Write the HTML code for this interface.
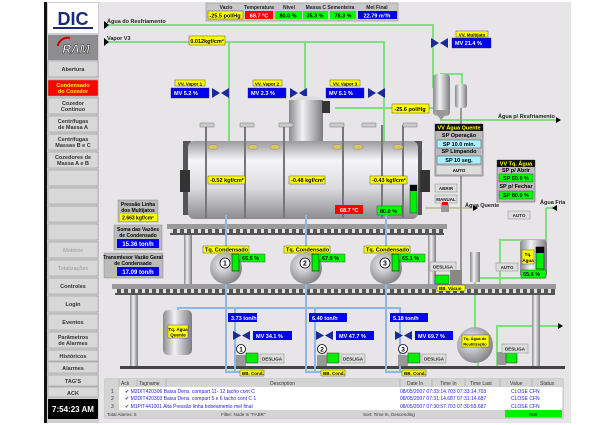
<!DOCTYPE html>
<html><head><meta charset="utf-8"><style>
html,body{margin:0;padding:0;background:#fff;}
svg{display:block;font-family:"Liberation Sans",sans-serif;}
</style></head><body>
<svg width="614" height="425" viewBox="0 0 614 425" xmlns="http://www.w3.org/2000/svg">
<defs>
<linearGradient id="vg" x1="0" y1="0" x2="0" y2="1"><stop offset="0" stop-color="#9a9a9e"/><stop offset="0.25" stop-color="#f6f6f8"/><stop offset="0.6" stop-color="#dcdce0"/><stop offset="1" stop-color="#8c8c90"/></linearGradient>
<linearGradient id="hg" x1="0" y1="0" x2="1" y2="0"><stop offset="0" stop-color="#8a8a8e"/><stop offset="0.4" stop-color="#f2f2f4"/><stop offset="1" stop-color="#7c7c80"/></linearGradient>
<radialGradient id="rg" cx="0.4" cy="0.4" r="0.7"><stop offset="0" stop-color="#f4f4f6"/><stop offset="1" stop-color="#77777b"/></radialGradient>
<pattern id="teeth" x="0" y="0" width="7" height="6" patternUnits="userSpaceOnUse"><rect width="7" height="6" fill="#555"/><rect x="2" y="1" width="3" height="4" fill="#e0e0e0"/></pattern>
</defs>
<rect x="44" y="2" width="527" height="421" fill="#e7e5e8"/>
<rect x="44" y="2" width="3" height="421" fill="#111"/>
<rect x="47" y="2" width="52" height="421" fill="#cfcfcf"/>
<rect x="48" y="3" width="50" height="30" fill="#fff"/>
<text x="73" y="25" font-size="18" font-weight="bold" fill="#1e2a78" text-anchor="middle">DIC</text>
<rect x="53" y="27" width="40" height="2" fill="#1e2a78"/>
<rect x="48" y="35" width="50" height="25" fill="#8e8e90"/>
<text x="76" y="53" font-size="12" font-style="italic" font-weight="bold" fill="#fff" stroke="#222" stroke-width="0.5" text-anchor="middle">RAM</text>
<path d="M58 46 A10 9 0 0 1 70 38" stroke="#c00" stroke-width="2" fill="none"/>
<g font-size="5.5" font-weight="bold" fill="#333" text-anchor="middle">
<rect x="48" y="61" width="50" height="16" fill="#d8d8d8" stroke="#999" stroke-width=".6"/><text x="73" y="71">Abertura</text>
<rect x="48" y="80" width="50" height="16" fill="#f00" stroke="#999" stroke-width=".6"/><text x="73" y="87" fill="#ff0">Condensado</text><text x="73" y="93" fill="#ff0">do Cozedor</text>
<rect x="48" y="98" width="50" height="16" fill="#d8d8d8" stroke="#999" stroke-width=".6"/><text x="73" y="105">Cozedor</text><text x="73" y="111">Contínuo</text>
<rect x="48" y="116" width="50" height="16" fill="#d8d8d8" stroke="#999" stroke-width=".6"/><text x="73" y="123">Centrífugas</text><text x="73" y="129">de Massa A</text>
<rect x="48" y="134" width="50" height="16" fill="#d8d8d8" stroke="#999" stroke-width=".6"/><text x="73" y="141">Centrífugas</text><text x="73" y="147">Massas B e C</text>
<rect x="48" y="152" width="50" height="16" fill="#d8d8d8" stroke="#999" stroke-width=".6"/><text x="73" y="159">Cozedores de</text><text x="73" y="165">Massa A e B</text>
<rect x="48" y="170" width="50" height="16" fill="#d8d8d8" stroke="#999" stroke-width=".6"/>
<rect x="48" y="188" width="50" height="16" fill="#d8d8d8" stroke="#999" stroke-width=".6"/>
<rect x="48" y="206" width="50" height="16" fill="#d8d8d8" stroke="#999" stroke-width=".6"/>
<rect x="48" y="224" width="50" height="16" fill="#d8d8d8" stroke="#999" stroke-width=".6"/>
<rect x="48" y="242" width="50" height="16" fill="#d8d8d8" stroke="#999" stroke-width=".6"/><text x="73" y="252" fill="#999" font-weight="normal">Motores</text>
<rect x="48" y="260" width="50" height="16" fill="#d8d8d8" stroke="#999" stroke-width=".6"/><text x="73" y="270" fill="#999" font-weight="normal">Totalizações</text>
<rect x="48" y="278" width="50" height="16" fill="#d8d8d8" stroke="#999" stroke-width=".6"/><text x="73" y="288">Controles</text>
<rect x="48" y="296" width="50" height="16" fill="#d8d8d8" stroke="#999" stroke-width=".6"/><text x="73" y="306">Login</text>
<rect x="48" y="314" width="50" height="16" fill="#d8d8d8" stroke="#999" stroke-width=".6"/><text x="73" y="324">Eventos</text>
<rect x="48" y="332" width="50" height="16" fill="#d8d8d8" stroke="#999" stroke-width=".6"/><text x="73" y="339">Parâmetros</text><text x="73" y="345">de Alarmes</text>
<rect x="48" y="350" width="50" height="11" fill="#d8d8d8" stroke="#999" stroke-width=".6"/><text x="73" y="358">Históricos</text>
<rect x="48" y="362" width="50" height="11" fill="#d8d8d8" stroke="#999" stroke-width=".6"/><text x="73" y="370">Alarmes</text>
<rect x="48" y="375" width="50" height="11" fill="#d8d8d8" stroke="#999" stroke-width=".6"/><text x="73" y="383">TAG'S</text>
<rect x="48" y="387" width="50" height="10" fill="#d8d8d8" stroke="#999" stroke-width=".6"/><text x="73" y="395">ACK</text>
</g>
<rect x="48" y="399" width="50" height="20" fill="#000"/>
<text x="73" y="412" font-size="8" font-weight="bold" fill="#fff" text-anchor="middle">7:54:23 AM</text>

<rect x="206" y="3" width="192" height="18" fill="#c8c8c8" stroke="#888" stroke-width=".5"/>
<g font-size="5" font-weight="bold" fill="#222" text-anchor="middle">
<text x="226" y="9">Vazio</text><text x="259" y="9">Temperatura</text><text x="289" y="9">Nível</text><text x="330" y="9">Massa C Sementeira</text><text x="377" y="9">Mel Final</text></g>
<rect x="208" y="11" width="35" height="8" fill="#ff0" stroke="#333" stroke-width=".4"/>
<rect x="245" y="11" width="28" height="8" fill="#f00"/>
<rect x="275" y="11" width="27" height="8" fill="#0f0"/>
<rect x="303" y="11" width="25" height="8" fill="#0f0"/>
<rect x="330" y="11" width="26" height="8" fill="#0f0"/>
<rect x="358" y="11" width="39" height="8" fill="#0000e0"/>
<g font-size="5.5" font-weight="bold" text-anchor="middle">
<text x="225" y="17.5">-25.5 pol/Hg</text><text x="259" y="17.5" fill="#fff">68.7 °C</text><text x="288" y="17.5">80.0 %</text><text x="315" y="17.5">35.3 %</text><text x="343" y="17.5">78.3 %</text><text x="377" y="17.5" fill="#fff">22.79 m³/h</text></g>

<g stroke="#7fe07f" stroke-width="2" fill="none">
<path d="M106 25 H433 V88"/>
<path d="M106 42 H384 V145"/>
<path d="M229 42 V145"/><path d="M305 42 V157"/>
<path d="M335 108 H436"/>
<path d="M440 120 H558"/>
<path d="M441 78 V74 H462 V84"/>
<path d="M475 208 H425" stroke="#c0c8a0"/>
<path d="M546 208 H555 M546 208 V240 H500 V285 M478 278 H545"/>
<path d="M475 277 V345"/>
<path d="M478 345 V368 H497 V326 H560"/>
</g>
<g font-size="5.5" font-weight="bold" fill="#222">
<text x="107" y="23">Água do Resfriamento</text><text x="107" y="40">Vapor V3</text>
<text x="498" y="118">Água p/ Resfriamento</text><text x="465" y="207">Água Quente</text><text x="540" y="204">Água Fria</text></g>
<g fill="#000"><path d="M104 21 l5 4 l-5 4z"/><path d="M104 38 l5 4 l-5 4z"/><path d="M561 120 l-5 -3 v6z"/><path d="M478 208 l-5 -3 v6z"/><path d="M552 208 l5 -3 v6z"/><path d="M563 326 l-5 -3 v6z"/></g>
<rect x="189" y="36" width="36" height="9" fill="#ff0" stroke="#333" stroke-width=".4"/><text x="207" y="43" font-size="5.5" font-weight="bold" text-anchor="middle">0.012kgf/cm²</text>

<rect x="433" y="74" width="17" height="42" rx="4" fill="url(#hg)"/><path d="M433 110 L441 120 L450 110z" fill="#999"/>
<rect x="455" y="84" width="12" height="24" rx="3" fill="url(#hg)"/>
<path d="M461 108 V290" stroke="#999" stroke-width="2"/>
<rect x="392" y="104" width="37" height="9" fill="#ff0" stroke="#333" stroke-width=".4"/><text x="410" y="111" font-size="5.5" font-weight="bold" text-anchor="middle">-25.6 pol/Hg</text>

<g font-size="5.5" font-weight="bold">
<rect x="175" y="80" width="30" height="6" fill="#ff0" stroke="#333" stroke-width=".4"/><text x="190" y="85.5" text-anchor="middle" font-size="4.5">VV. Vapor 1</text>
<rect x="171" y="88" width="38" height="10" fill="#00e" stroke="#333" stroke-width=".4"/><text x="174" y="95" fill="#fff">MV   5.2   %</text>
<rect x="253" y="80" width="29" height="6" fill="#ff0" stroke="#333" stroke-width=".4"/><text x="267" y="85.5" text-anchor="middle" font-size="4.5">VV. Vapor 2</text>
<rect x="248" y="88" width="38" height="10" fill="#00e" stroke="#333" stroke-width=".4"/><text x="251" y="95" fill="#fff">MV   2.3   %</text>
<rect x="330" y="80" width="30" height="6" fill="#ff0" stroke="#333" stroke-width=".4"/><text x="345" y="85.5" text-anchor="middle" font-size="4.5">VV. Vapor 3</text>
<rect x="326" y="88" width="38" height="10" fill="#00e" stroke="#333" stroke-width=".4"/><text x="329" y="95" fill="#fff">MV   5.1   %</text>
<rect x="456" y="31" width="32" height="6" fill="#ff0" stroke="#333" stroke-width=".4"/><text x="472" y="36.5" text-anchor="middle" font-size="4.5">VV. Multijato</text>
<rect x="452" y="38" width="39" height="10" fill="#00e" stroke="#333" stroke-width=".4"/><text x="455" y="45" fill="#fff">MV   21.4  %</text>
</g>
<g fill="#1a2a9a"><path d="M212 88 l8 5 l-8 5z M229 88 l-8 5 l8 5z"/><path d="M290 88 l8 5 l-8 5z M307 88 l-8 5 l8 5z"/><path d="M368 88 l8 5 l-8 5z M385 88 l-8 5 l8 5z"/><path d="M431 38 l8 5 l-8 5z M448 38 l-8 5 l8 5z"/></g>

<ellipse cx="306" cy="101" rx="17" ry="5" fill="#ddd"/>
<rect x="289" y="100" width="34" height="50" fill="url(#hg)"/>
<rect x="322" y="101" width="8" height="12" fill="#333"/>
<rect x="183" y="141" width="8" height="74" fill="#555"/>
<rect x="414" y="141" width="8" height="74" fill="#555"/>
<rect x="188" y="141" width="230" height="78" rx="6" fill="url(#vg)"/>
<rect x="180" y="170" width="10" height="22" fill="#333"/><rect x="420" y="170" width="10" height="22" fill="#333"/>
<g stroke="#777" stroke-width="2"><path d="M206 125 V218 M245 125 V218 M284 125 V218 M343 125 V218 M382 125 V218 M403 125 V218"/></g>
<g fill="#ccc" stroke="#777" stroke-width=".5"><rect x="200" y="123" width="14" height="4"/><rect x="240" y="123" width="14" height="4"/><rect x="279" y="123" width="14" height="4"/><rect x="330" y="123" width="14" height="4"/><rect x="362" y="123" width="14" height="4"/><rect x="403" y="123" width="14" height="4"/></g>
<g fill="#d9c860" stroke="#888" stroke-width=".5"><ellipse cx="213" cy="147" rx="5" ry="2.5"/><ellipse cx="253" cy="147" rx="5" ry="2.5"/><ellipse cx="275" cy="147" rx="5" ry="2.5"/><ellipse cx="337" cy="147" rx="5" ry="2.5"/><ellipse cx="358" cy="147" rx="5" ry="2.5"/><ellipse cx="398" cy="147" rx="5" ry="2.5"/></g>
<g font-size="5.5" font-weight="bold">
<rect x="208" y="176" width="37" height="8" fill="#ff0" stroke="#333" stroke-width=".4"/><text x="210" y="182">-0.52 kgf/cm²</text>
<rect x="289" y="176" width="36" height="8" fill="#ff0" stroke="#333" stroke-width=".4"/><text x="291" y="182">-0.48 kgf/cm²</text>
<rect x="370" y="176" width="37" height="8" fill="#ff0" stroke="#333" stroke-width=".4"/><text x="372" y="182">-0.43 kgf/cm²</text>
<rect x="335" y="205" width="28" height="9" fill="#f00"/><text x="340" y="212" fill="#fff">68.7  °C</text>
<rect x="377" y="206" width="25" height="9" fill="#0f0" stroke="#333" stroke-width=".4"/><text x="380" y="213">80.0  %</text>
</g>
<rect x="410" y="185" width="7" height="28" fill="#0e0" stroke="#333" stroke-width=".5"/><rect x="410" y="185" width="7" height="6" fill="#000"/>
<rect x="167" y="224" width="280" height="5" fill="#9a9a9a"/>
<rect x="170" y="229" width="274" height="6" fill="url(#teeth)"/>
<rect x="184" y="235" width="8" height="50" fill="url(#hg)"/><rect x="428" y="235" width="8" height="50" fill="url(#hg)"/>
<rect x="112" y="284" width="444" height="5" fill="#9a9a9a"/>
<rect x="115" y="289" width="440" height="6" fill="url(#teeth)"/>
<rect x="130" y="295" width="8" height="72" fill="url(#hg)"/><rect x="532" y="295" width="8" height="72" fill="url(#hg)"/>
<rect x="120" y="366" width="445" height="3" fill="#444"/>

<g stroke="#8ab8ea" stroke-width="2" fill="none">
<path d="M226 215 V247 M306 215 V247 M386 215 V247"/>
<path d="M226 283 V372 H244 M306 283 V372 H324 M386 283 V372 H404"/>
<path d="M178 330 V308 H400 V372"/><path d="M235 308 V372 M315 308 V372"/>
</g>
<g font-size="5.5" font-weight="bold">
<rect x="203" y="246" width="46" height="7" fill="#ff0" stroke="#333" stroke-width=".4"/><text x="205" y="251.5">Tq. Condensado</text>
<rect x="284" y="246" width="46" height="7" fill="#ff0" stroke="#333" stroke-width=".4"/><text x="286" y="251.5">Tq. Condensado</text>
<rect x="364" y="246" width="46" height="7" fill="#ff0" stroke="#333" stroke-width=".4"/><text x="366" y="251.5">Tq. Condensado</text>
</g>
<g>
<circle cx="226" cy="268" r="16" fill="url(#rg)"/><circle cx="306" cy="268" r="16" fill="url(#rg)"/><circle cx="386" cy="268" r="16" fill="url(#rg)"/>
<g fill="#fff" stroke="#000" stroke-width=".8"><circle cx="225" cy="263" r="5"/><circle cx="305" cy="263" r="5"/><circle cx="385" cy="263" r="5"/></g>
<g font-size="7" font-weight="bold" text-anchor="middle"><text x="225" y="265.5">1</text><text x="305" y="265.5">2</text><text x="385" y="265.5">3</text></g>
<g fill="#0e0" stroke="#000" stroke-width=".5"><rect x="232" y="254" width="7" height="17"/><rect x="312" y="254" width="7" height="17"/><rect x="392" y="254" width="7" height="17"/></g>
<g font-size="5.5" font-weight="bold"><rect x="240" y="254" width="25" height="8" fill="#0f0" stroke="#333" stroke-width=".4"/><text x="242" y="260">66.5  %</text>
<rect x="320" y="254" width="25" height="8" fill="#0f0" stroke="#333" stroke-width=".4"/><text x="322" y="260">67.9  %</text>
<rect x="400" y="254" width="25" height="8" fill="#0f0" stroke="#333" stroke-width=".4"/><text x="402" y="260">65.1  %</text></g>
</g>

<g font-size="5" font-weight="bold" text-anchor="middle">
<rect x="118" y="200" width="40" height="22" fill="#bbb" stroke="#888" stroke-width=".5"/><text x="138" y="206">Pressão Linha</text><text x="138" y="212">dos Multijatos</text>
<rect x="120" y="214" width="37" height="7" fill="#ff0"/><text x="138" y="219.5">2.663 kgf/cm²</text>
<rect x="114" y="225" width="48" height="25" fill="#bbb" stroke="#888" stroke-width=".5"/><text x="138" y="231">Soma das Vazões</text><text x="138" y="237">de Condensado</text>
<rect x="117" y="239" width="42" height="9" fill="#00e"/><text x="138" y="246" fill="#fff" font-size="6">15.36  ton/h</text>
<rect x="104" y="253" width="59" height="25" fill="#bbb" stroke="#888" stroke-width=".5"/><text x="133" y="259">Transmissor Vazão Geral</text><text x="133" y="265">de Condensado</text>
<rect x="117" y="267" width="42" height="9" fill="#00e"/><text x="138" y="274" fill="#fff" font-size="6">17.09  ton/h</text>
</g>

<g font-size="5.5" font-weight="bold" text-anchor="middle">
<rect x="435" y="124" width="48" height="52" fill="#bbb" stroke="#555" stroke-width=".5"/>
<rect x="435" y="124" width="48" height="7" fill="#111"/><text x="459" y="129.5" fill="#ff0">VV Água Quente</text>
<text x="459" y="137">SP Operação</text>
<rect x="437" y="140" width="44" height="8" fill="#aef" stroke="#333" stroke-width=".4"/><text x="459" y="146">SP   10.0   min.</text>
<text x="459" y="153">SP Limpando</text>
<rect x="437" y="156" width="44" height="8" fill="#aef" stroke="#333" stroke-width=".4"/><text x="459" y="162">SP   10   seg.</text>
<rect x="437" y="166" width="44" height="8" fill="#ddd"/><text x="459" y="172" font-size="4.5">AUTO</text>
<rect x="497" y="160" width="38" height="42" fill="#bbb" stroke="#555" stroke-width=".5"/>
<rect x="497" y="160" width="38" height="7" fill="#111"/><text x="516" y="165.5" fill="#ff0">VV Tq. Água</text>
<text x="516" y="172">SP p/ Abrir</text>
<rect x="499" y="174" width="34" height="8" fill="#0f0" stroke="#333" stroke-width=".4"/><text x="516" y="180">SP  50.0  %</text>
<text x="516" y="188">SP p/ Fechar</text>
<rect x="499" y="191" width="34" height="8" fill="#0f0" stroke="#333" stroke-width=".4"/><text x="516" y="197">SP  80.0  %</text>
</g>
<g font-size="4.5" font-weight="bold" text-anchor="middle" fill="#222">
<rect x="435" y="184" width="22" height="8" fill="#ddd" stroke="#888" stroke-width=".5"/><text x="446" y="190">ABRIR</text>
<rect x="435" y="195" width="22" height="8" fill="#ddd" stroke="#888" stroke-width=".5"/><text x="446" y="201">MANUAL</text>
<rect x="508" y="211" width="22" height="8" fill="#ddd" stroke="#888" stroke-width=".5"/><text x="519" y="217">AUTO</text>
<rect x="496" y="263" width="22" height="8" fill="#ddd" stroke="#888" stroke-width=".5"/><text x="507" y="269">AUTO</text>
<rect x="430" y="262" width="26" height="9" fill="#ddd" stroke="#888" stroke-width=".5"/><text x="443" y="268.5">DESLIGA</text>
</g>
<rect x="441" y="204" width="8" height="8" fill="#999"/><rect x="442" y="202" width="6" height="3" fill="#e00"/>
<rect x="520" y="240" width="27" height="37" rx="3" fill="url(#hg)"/>
<rect x="522" y="250" width="12" height="14" fill="#ff0" stroke="#333" stroke-width=".4"/><text x="528" y="256" font-size="4.5" font-weight="bold" text-anchor="middle">Tq.</text><text x="528" y="262" font-size="4.5" font-weight="bold" text-anchor="middle">Água</text>
<rect x="536" y="247" width="8" height="22" fill="#0e0" stroke="#000" stroke-width=".5"/><rect x="536" y="247" width="8" height="6" fill="#000"/>
<rect x="521" y="270" width="25" height="8" fill="#0f0" stroke="#333" stroke-width=".4"/><text x="523" y="276" font-size="5.5" font-weight="bold">65.6  %</text>
<rect x="435" y="275" width="14" height="9" fill="#0e0" stroke="#333" stroke-width=".5"/><rect x="450" y="270" width="12" height="15" fill="#888"/>
<rect x="470" y="252" width="10" height="30" fill="url(#hg)"/>
<rect x="437" y="285" width="28" height="6" fill="#ff0" stroke="#333" stroke-width=".4"/><text x="439" y="290" font-size="4.5" font-weight="bold">BB. Vácuo</text>

<rect x="163" y="310" width="29" height="45" rx="5" fill="url(#hg)"/>
<rect x="168" y="325" width="20" height="13" fill="#ff0" stroke="#333" stroke-width=".4"/><text x="178" y="331" font-size="4.5" font-weight="bold" text-anchor="middle">Tq. Água</text><text x="178" y="336.5" font-size="4.5" font-weight="bold" text-anchor="middle">Quente</text>
<circle cx="475" cy="345" r="18" fill="url(#rg)"/>
<rect x="462" y="335" width="27" height="12" fill="#ff0" stroke="#333" stroke-width=".4"/><text x="475" y="340" font-size="4" font-weight="bold" text-anchor="middle">Tq. Água de</text><text x="475" y="345.5" font-size="4" font-weight="bold" text-anchor="middle">Reutilização</text>
<g font-size="5.5" font-weight="bold" fill="#fff">
<rect x="228" y="313" width="29" height="9" fill="#00e"/><text x="231" y="320">3.73   ton/h</text>
<rect x="309" y="313" width="38" height="9" fill="#00e"/><text x="312" y="320">6.40   ton/h</text>
<rect x="390" y="313" width="38" height="9" fill="#00e"/><text x="393" y="320">5.18   ton/h</text>
<rect x="253" y="331" width="39" height="9" fill="#00e"/><text x="256" y="338">MV   34.1   %</text>
<rect x="336" y="331" width="38" height="9" fill="#00e"/><text x="339" y="338">MV   47.7   %</text>
<rect x="415" y="331" width="38" height="9" fill="#00e"/><text x="418" y="338">MV   69.7   %</text>
</g>
<g fill="#1a2a9a"><path d="M233 331 l8 4.5 l-8 4.5z M250 331 l-8 4.5 l8 4.5z"/><path d="M316 331 l8 4.5 l-8 4.5z M333 331 l-8 4.5 l8 4.5z"/><path d="M395 331 l8 4.5 l-8 4.5z M412 331 l-8 4.5 l8 4.5z"/></g>
<g>
<g fill="#fff" stroke="#000" stroke-width=".8"><circle cx="241" cy="349" r="4.5"/><circle cx="322" cy="349" r="4.5"/><circle cx="403" cy="349" r="4.5"/></g>
<g font-size="6.5" font-weight="bold" text-anchor="middle"><text x="241" y="351.5">1</text><text x="322" y="351.5">2</text><text x="403" y="351.5">3</text></g>
<g fill="#999"><rect x="236" y="355" width="10" height="11"/><rect x="317" y="355" width="10" height="11"/><rect x="398" y="355" width="10" height="11"/><rect x="497" y="352" width="9" height="13"/></g>
<g fill="#0e0" stroke="#333" stroke-width=".5"><rect x="246" y="353" width="12" height="10"/><rect x="327" y="353" width="12" height="10"/><rect x="408" y="353" width="12" height="10"/><rect x="506" y="352" width="11" height="11"/></g>
<g font-size="4.5" font-weight="bold" text-anchor="middle" fill="#222">
<rect x="260" y="354" width="24" height="9" fill="#ddd" stroke="#888" stroke-width=".5"/><text x="272" y="360.5">DESLIGA</text>
<rect x="341" y="354" width="24" height="9" fill="#ddd" stroke="#888" stroke-width=".5"/><text x="353" y="360.5">DESLIGA</text>
<rect x="422" y="354" width="24" height="9" fill="#ddd" stroke="#888" stroke-width=".5"/><text x="434" y="360.5">DESLIGA</text>
<rect x="502" y="344" width="26" height="9" fill="#ddd" stroke="#888" stroke-width=".5"/><text x="515" y="350.5">DESLIGA</text>
</g>
<g font-size="4.5" font-weight="bold"><rect x="240" y="370" width="24" height="6" fill="#ff0" stroke="#333" stroke-width=".4"/><text x="242" y="375">BB. Cond.</text>
<rect x="321" y="370" width="24" height="6" fill="#ff0" stroke="#333" stroke-width=".4"/><text x="323" y="375">BB. Cond.</text>
<rect x="402" y="370" width="24" height="6" fill="#ff0" stroke="#333" stroke-width=".4"/><text x="404" y="375">BB. Cond.</text></g>
</g>

<rect x="105" y="379" width="458" height="39" fill="#fff" stroke="#888" stroke-width=".5"/>
<rect x="105" y="379" width="458" height="8" fill="#d4d4d4"/>
<rect x="105" y="410" width="458" height="8" fill="#d4d4d4"/>
<rect x="105" y="379" width="14" height="31" fill="#d4d4d4"/>
<g stroke="#999" stroke-width=".5"><path d="M119 379 V387 M137 379 V387 M166 379 V387 M400 379 V387 M432 379 V387 M465 379 V387 M500 379 V387 M532 379 V387"/></g>
<g font-size="5" fill="#333"><text x="121" y="385">Ack</text><text x="139" y="385">Tagname</text><text x="270" y="385">Description</text><text x="407" y="385">Date In</text><text x="440" y="385">Time In</text><text x="470" y="385">Time Last</text><text x="510" y="385">Value</text><text x="540" y="385">Status</text>
<text x="111" y="393">1</text><text x="111" y="400">2</text><text x="111" y="408">3</text></g>
<g font-size="5" fill="#2222dd">
<text x="125" y="393">✔ M2DIT420306 Baixa Dens. compart 11- 12 tacho cont C</text><text x="400" y="393">08/05/2007  07:33:14.703 07:33:14.703</text><text x="511" y="393">CLOSE  CFN</text>
<text x="125" y="400">✔ M2DIT420303 Baixa Dens. compart 5 e 6 tacho cont C 1</text><text x="400" y="400">08/05/2007  07:31:14.687 07:31:14.687</text><text x="511" y="400">CLOSE  CFN</text>
<text x="125" y="408">✔ M1PIT441001 Alta Pressão linha bobeamento mel final</text><text x="400" y="408">08/05/2007  07:30:57.703 07:30:59.687</text><text x="511" y="408">CLOSE  CFN</text>
</g>
<g font-size="4.5" fill="#333"><text x="107" y="416">Total Alarms: 5</text><text x="221" y="416">Filter: Node In "FABR"</text><text x="363" y="416">Sort: Time In, Descending</text></g>
<rect x="505" y="410" width="57" height="7.5" fill="#0e0"/><text x="533" y="416" font-size="4.5" text-anchor="middle">Run</text>
</svg>
</body></html>
